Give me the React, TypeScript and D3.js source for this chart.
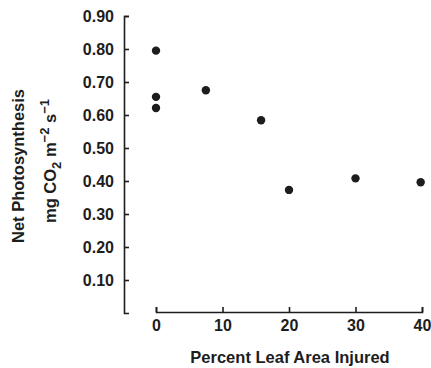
import React, { useRef, useEffect } from 'react';
import { select, scaleLinear, axisLeft, axisBottom, format } from 'd3';

// percent leaf area injured
const injured = [0, 0, 0, 7.5, 15.8, 20, 30, 39.8];
// net photosynthesis, mg CO2 m-2 s-1
const photosynthesis = [0.795, 0.655, 0.621, 0.675, 0.584, 0.373, 0.408, 0.396];
const xTicks = [0, 10, 20, 30, 40];
const yTicks = [0.1, 0.2, 0.3, 0.4, 0.5, 0.6, 0.7, 0.8, 0.9];

const W = 431;
const H = 368;
const FONT = '"Liberation Sans", Arial, Helvetica, sans-serif';
const INK = '#1d1d1d';

const App = () => {
  const svgRef = useRef(null);

  useEffect(() => {
    const svg = select(svgRef.current);

    const xScale = scaleLinear().domain([0, 40]).range([156, 422]);
    const yScale = scaleLinear().domain([0, 0.9]).range([313, 16]);

    const yAxis = axisLeft(yScale)
      .tickValues(yTicks)
      .tickFormat(format('.2f'))
      .tickSizeInner(-5)
      .tickSizeOuter(-5)
      .tickPadding(10);

    const xAxis = axisBottom(xScale)
      .tickValues(xTicks)
      .tickFormat(format('d'))
      .tickSizeInner(-5)
      .tickSizeOuter(-5)
      .tickPadding(8);

    svg
      .select('.y-axis')
      .attr('transform', 'translate(124,0)')
      .call(yAxis);

    svg
      .select('.x-axis')
      .attr('transform', 'translate(0,312)')
      .call(xAxis);

    svg
      .selectAll('.y-axis, .x-axis')
      .call(g => g.selectAll('path, line').attr('stroke', INK).attr('stroke-width', 1.6))
      .call(g =>
        g
          .selectAll('text')
          .attr('fill', INK)
          .style('font-family', FONT)
          .style('font-size', '16px')
          .style('font-weight', 'bold')
      );

    svg
      .select('.points')
      .selectAll('circle')
      .data(injured)
      .join('circle')
      .attr('cx', d => xScale(d))
      .attr('cy', (d, i) => yScale(photosynthesis[i]))
      .attr('r', 4.2)
      .attr('fill', INK);
  }, []);

  const titleStyle = { fontFamily: FONT, fontSize: 16.5, fontWeight: 'bold' };

  return (
    <svg
      ref={svgRef}
      width={W}
      height={H}
      style={{ position: 'absolute', left: 0, top: 0, background: '#fff' }}
    >
      <g className="y-axis" />
      <g className="x-axis" />
      <g className="points" />
      <text x={290} y={363} textAnchor="middle" fill={INK} style={titleStyle}>
        Percent Leaf Area Injured
      </text>
      <text
        transform="translate(24,166) rotate(-90)"
        textAnchor="middle"
        fill={INK}
        style={titleStyle}
      >
        Net Photosynthesis
      </text>
      <text
        transform="translate(56,161) rotate(-90)"
        textAnchor="middle"
        fill={INK}
        style={titleStyle}
      >
        mg CO
        <tspan dy={5} fontSize={13}>2</tspan>
        <tspan dy={-5}> m</tspan>
        <tspan dy={-7} fontSize={13}>−2</tspan>
        <tspan dy={7}> s</tspan>
        <tspan dy={-7} fontSize={13}>−1</tspan>
      </text>
    </svg>
  );
};

export default App;
